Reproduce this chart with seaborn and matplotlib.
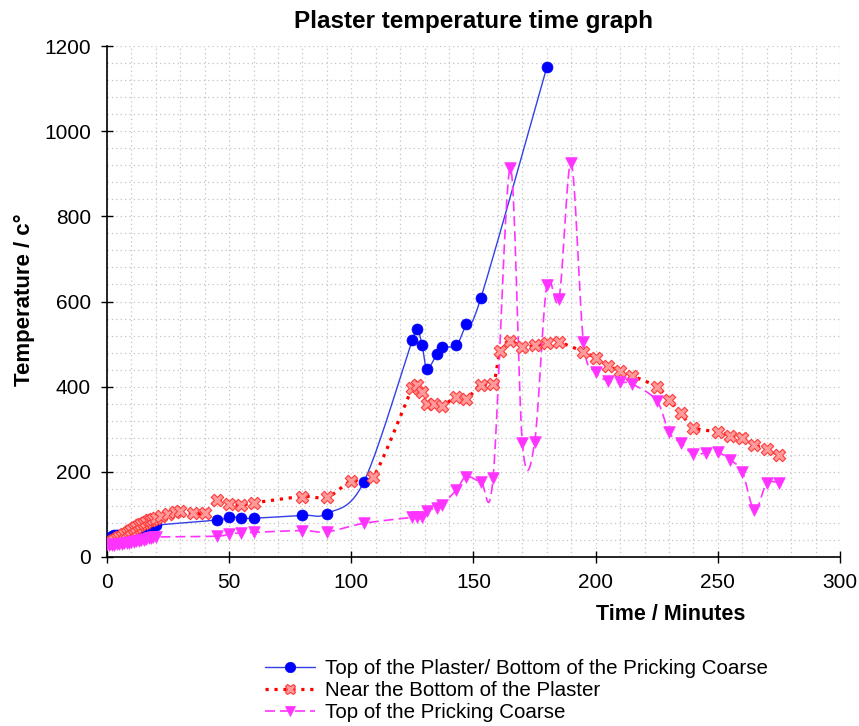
import numpy as np
import pandas as pd
import matplotlib
matplotlib.use("Agg")
import matplotlib.pyplot as plt
from matplotlib.lines import Line2D
from matplotlib.ticker import MultipleLocator
import seaborn as sns

# ---------------- data ----------------
early_t = list(range(0, 21))

t_blue = early_t + [45, 50, 55, 60, 80, 90, 105, 125, 127, 129, 131, 135, 137, 143, 147, 153, 180]
blue = [35, 44, 50, 52, 52, 51, 51, 52, 53, 54, 56, 57, 58, 60, 62, 65, 68, 72, 74, 75, 75,
        87, 94, 92, 91, 98, 102, 175, 510, 535, 497, 442, 477, 492, 498, 546, 608, 1150]

t_red = early_t + [22, 25, 28, 30, 35, 40, 45, 50, 55, 60, 80, 90, 100, 109,
                   125, 127, 129, 131, 134, 137, 143, 147, 153, 158,
                   161, 165, 170, 175, 180, 185, 195, 200, 205, 210, 215,
                   225, 230, 235, 240, 250, 255, 260, 265, 270, 275]
red = [32, 35, 38, 41, 44, 47, 50, 53, 57, 61, 64, 67, 71, 74, 77, 80, 83, 86, 88, 90, 92,
       96, 100, 106, 108, 103, 104, 134, 124, 122, 127, 142, 140, 179, 188,
       398, 404, 388, 359, 359, 354, 376, 371, 405, 406,
       484, 507, 492, 497, 502, 504, 482, 467, 449, 437, 425,
       400, 369, 337, 304, 294, 285, 280, 263, 253, 240]

t_pink = early_t + [45, 50, 55, 60, 80, 90, 105, 125, 127, 129, 131, 135, 137,
                    143, 147, 153, 158, 165, 170, 175, 180, 185, 190, 195,
                    200, 205, 210, 215, 225, 230, 235, 240, 245, 250, 255, 260, 265, 270, 275]
pink = [30, 28, 28, 29, 30, 30, 31, 32, 33, 34, 35, 36, 37, 38, 39, 40, 42, 44, 45, 46, 47,
        49, 55, 56, 58, 62, 59, 79, 93, 93, 93, 109, 115, 123,
        157, 189, 177, 185, 913, 267, 269, 639, 607, 925, 505,
        434, 414, 410, 406, 367, 293, 267, 241, 245, 246, 228, 200, 110, 173, 173]

labels = ["Top of the Plaster/ Bottom of the Pricking Coarse",
          "Near the Bottom of the Plaster",
          "Top of the Pricking Coarse"]

# ---------------- style ----------------
sns.set_theme(style="white")
plt.rcParams["font.family"] = ["Liberation Sans", "DejaVu Sans"]
plt.rcParams["text.color"] = "black"
plt.rcParams["axes.labelcolor"] = "black"
plt.rcParams["xtick.color"] = "black"
plt.rcParams["ytick.color"] = "black"

fig = plt.figure(figsize=(8.59, 7.26), dpi=100)
ax = fig.add_axes([107 / 859, 1 - 557 / 726, 733 / 859, 511 / 726])

SX, SY = 733 / 300.0, 511 / 1200.0   # screen scaling for smoothing


def smooth(xs, ys, n=30):
    """Catmull-Rom (Bezier) smoothing in screen space, like a spreadsheet 'smoothed line'."""
    P = np.column_stack([np.asarray(xs, float) * SX, np.asarray(ys, float) * SY])
    E = np.vstack([P[0], P, P[-1]])
    segs = []
    t = np.linspace(0, 1, n, endpoint=False)[:, None]
    for i in range(1, len(E) - 2):
        p0, p1, p2, p3 = E[i - 1], E[i], E[i + 1], E[i + 2]
        c1 = p1 + (p2 - p0) / 6.0
        c2 = p2 - (p3 - p1) / 6.0
        segs.append((1 - t) ** 3 * p1 + 3 * (1 - t) ** 2 * t * c1 + 3 * (1 - t) * t ** 2 * c2 + t ** 3 * p2)
    segs.append(P[-1:])
    S = np.vstack(segs)
    return pd.DataFrame({"x": S[:, 0] / SX, "y": S[:, 1] / SY})


series = [
    dict(t=t_blue, v=blue, color="#3340e8", ls="-", lw=1.0, marker="o", s=62,
         mfc="#0000ff", mec="#0000ff", mlw=0.5, label=labels[0]),
    dict(t=t_red, v=red, color="#ff0000", ls=(0, (1, 1.8)), lw=2.3, marker="X", s=80,
         mfc="#ff9a9a", mec="#ff3b3b", mlw=0.8, label=labels[1]),
    dict(t=t_pink, v=pink, color="#ff33ff", ls=(0, (6, 3)), lw=1.2, marker="v", s=70,
         mfc="#ff33ff", mec="#ff33ff", mlw=0.5, label=labels[2]),
]

handles = []
for sdef in series:
    df_line = smooth(sdef["t"], sdef["v"])
    sns.lineplot(data=df_line, x="x", y="y", sort=False, estimator=None, ax=ax,
                 color=sdef["color"], linewidth=sdef["lw"], linestyle=sdef["ls"], zorder=3)
    df_pts = pd.DataFrame({"x": sdef["t"], "y": sdef["v"]})
    sns.scatterplot(data=df_pts, x="x", y="y", ax=ax, marker=sdef["marker"], s=sdef["s"],
                    color=sdef["mfc"], edgecolor=sdef["mec"], linewidth=sdef["mlw"], zorder=4)
    handles.append(Line2D([], [], color=sdef["color"], linestyle=sdef["ls"], linewidth=sdef["lw"],
                          marker=sdef["marker"], markersize=7.5, markerfacecolor=sdef["mfc"],
                          markeredgecolor=sdef["mec"], markeredgewidth=sdef["mlw"]))

ax.set_xlim(0, 300)
ax.set_ylim(0, 1200)
ax.xaxis.set_major_locator(MultipleLocator(50))
ax.xaxis.set_minor_locator(MultipleLocator(10))
ax.yaxis.set_major_locator(MultipleLocator(200))
ax.yaxis.set_minor_locator(MultipleLocator(40))
ax.grid(which="both", color="#c4c4c4", linestyle=(0, (1, 2.5)), linewidth=0.9)
ax.set_axisbelow(True)

for side in ["top", "right"]:
    ax.spines[side].set_visible(False)
for side in ["left", "bottom"]:
    ax.spines[side].set_color("black")
    ax.spines[side].set_linewidth(1.2)

ax.tick_params(which="major", direction="inout", length=9, width=1.0, color="black",
               labelsize=15, labelcolor="black", pad=7, left=True, bottom=True)
ax.tick_params(which="minor", length=0)

ax.set_xlabel("Time / Minutes", fontsize=15.5, fontweight="bold", color="black")
ax.set_ylabel("Temperature / c°", fontsize=16, fontweight="bold", color="black")
ax.xaxis.set_label_coords((671 - 107) / 733, -0.092)
ax.yaxis.set_label_coords(-0.098, 0.503)
ax.set_title("Plaster temperature time graph", fontsize=17.5, fontweight="bold",
             color="black", pad=13)

fig.legend(handles, labels, loc="upper left", bbox_to_anchor=(265 / 859, 1 - 659 / 726),
           frameon=False, fontsize=14.8, handlelength=2.45, handletextpad=0.45,
           labelspacing=0.14, borderpad=0, borderaxespad=0)

fig.savefig("out.png", dpi=100)
